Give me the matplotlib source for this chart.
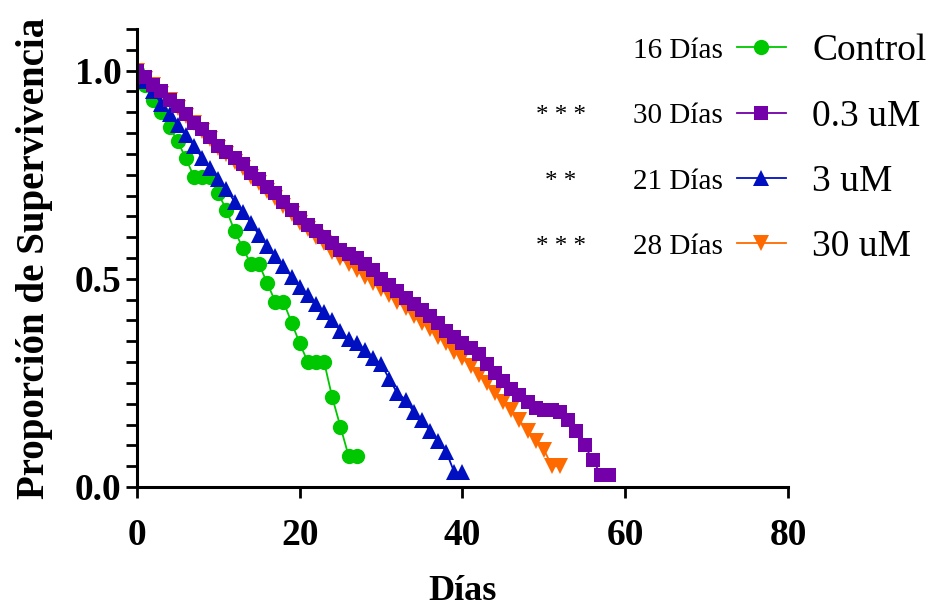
import matplotlib
matplotlib.use("Agg")
import matplotlib.pyplot as plt
from matplotlib.ticker import MultipleLocator

plt.rcParams['font.family'] = ['Liberation Serif', 'DejaVu Serif']

# survival proportion per day
days_control = list(range(0, 28))
surv_control = [1.0, 0.965, 0.93, 0.90, 0.865, 0.83, 0.79, 0.745, 0.745, 0.745,
                0.705, 0.665, 0.615, 0.575, 0.535, 0.535, 0.49, 0.445, 0.445, 0.395,
                0.345, 0.30, 0.30, 0.30, 0.215, 0.145, 0.075, 0.075]

days_03 = list(range(0, 59))
surv_03 = [1.0, 0.985, 0.965, 0.95, 0.93, 0.915, 0.895, 0.875, 0.86, 0.84,
           0.82, 0.805, 0.79, 0.775, 0.755, 0.74, 0.72, 0.705, 0.685, 0.665,
           0.645, 0.63, 0.615, 0.60, 0.585, 0.57, 0.56, 0.55, 0.535, 0.52,
           0.50, 0.485, 0.47, 0.455, 0.44, 0.425, 0.41, 0.395, 0.375, 0.36,
           0.345, 0.335, 0.32, 0.295, 0.275, 0.255, 0.235, 0.22, 0.205, 0.19,
           0.185, 0.185, 0.18, 0.16, 0.135, 0.10, 0.065, 0.03, 0.03]

days_3 = list(range(0, 41))
surv_3 = [1.0, 0.975, 0.95, 0.92, 0.895, 0.87, 0.845, 0.82, 0.79, 0.765,
          0.74, 0.715, 0.685, 0.66, 0.635, 0.605, 0.58, 0.555, 0.53, 0.505,
          0.48, 0.46, 0.44, 0.42, 0.40, 0.375, 0.355, 0.345, 0.33, 0.31,
          0.295, 0.26, 0.225, 0.21, 0.18, 0.16, 0.135, 0.11, 0.085, 0.035,
          0.035]

days_30 = list(range(0, 53))
surv_30 = [1.0, 0.98, 0.965, 0.945, 0.93, 0.91, 0.89, 0.875, 0.855, 0.835,
           0.815, 0.80, 0.78, 0.765, 0.745, 0.73, 0.71, 0.695, 0.675, 0.655,
           0.635, 0.62, 0.60, 0.585, 0.565, 0.55, 0.535, 0.52, 0.505, 0.49,
           0.475, 0.46, 0.445, 0.43, 0.41, 0.395, 0.38, 0.36, 0.345, 0.325,
           0.31, 0.29, 0.27, 0.25, 0.225, 0.205, 0.185, 0.16, 0.135, 0.11,
           0.09, 0.05, 0.05]

labels = ["Control", "0.3 uM", "3 uM", "30 uM"]
median_labels = ["16 Días", "30 Días", "21 Días", "28 Días"]
signif = ["", "* * *", "* *", "* * *"]

fig = plt.figure(figsize=(9.4, 6.07), dpi=100)
ax = fig.add_axes([0.1457, 0.1977, 0.6926, 0.7545])

series = [
    (days_control, surv_control, "#00c800", "o", 11),
    (days_30, surv_30, "#ff6a00", "v", 11),
    (days_3, surv_3, "#0010c0", "^", 11),
    (days_03, surv_03, "#7300a8", "s", 9.5),
]
handles = {}
for (x, y, color, marker, ms), name in zip(series, ["Control", "30 uM", "3 uM", "0.3 uM"]):
    handles[name] = ax.plot(x, y, color=color, marker=marker, markersize=ms,
                            linewidth=1.3, markeredgewidth=0, label=name)[0]

ax.set_xlim(0, 80)
ax.set_ylim(0, 1.1)
ax.set_xticks([0, 20, 40, 60, 80])
ax.set_yticks([0.0, 0.5, 1.0])
ax.set_yticklabels(["0.0", "0.5", "1.0"])
ax.yaxis.set_minor_locator(MultipleLocator(0.05))

for s in ["top", "right"]:
    ax.spines[s].set_visible(False)
for s in ["left", "bottom"]:
    ax.spines[s].set_linewidth(2.2)
ax.tick_params(which="both", direction="out", width=2, length=8)
ax.tick_params(axis="x", which="major", pad=14)
ax.tick_params(axis="y", which="major", pad=3)
for lab in ax.get_xticklabels() + ax.get_yticklabels():
    lab.set_fontsize(27)
    lab.set_fontweight("bold")

ax.set_xlabel("Días", fontsize=26, fontweight="bold", labelpad=16)
ax.set_ylabel("Proporción de Supervivencia", fontsize=28, fontweight="bold", labelpad=16)

leg = ax.legend([handles[l] for l in labels], labels, loc="upper left",
                bbox_to_anchor=(737 / 940, 1 - 34 / 607), bbox_transform=fig.transFigure,
                frameon=False, fontsize=27, handlelength=1.3, handletextpad=0.7,
                labelspacing=0.82, borderpad=0, borderaxespad=0)

fig.canvas.draw()
inv = fig.transFigure.inverted()
for txt, med, star in zip(leg.get_texts(), median_labels, signif):
    bb = txt.get_window_extent()
    yc = inv.transform((0, (bb.y0 + bb.y1) / 2))[1]
    fig.text(723 / 940, yc, med, ha="right", va="center", fontsize=21)
    if star:
        fig.text(561 / 940, yc, star, ha="center", va="center", fontsize=18)

fig.savefig("out.png", dpi=100)
